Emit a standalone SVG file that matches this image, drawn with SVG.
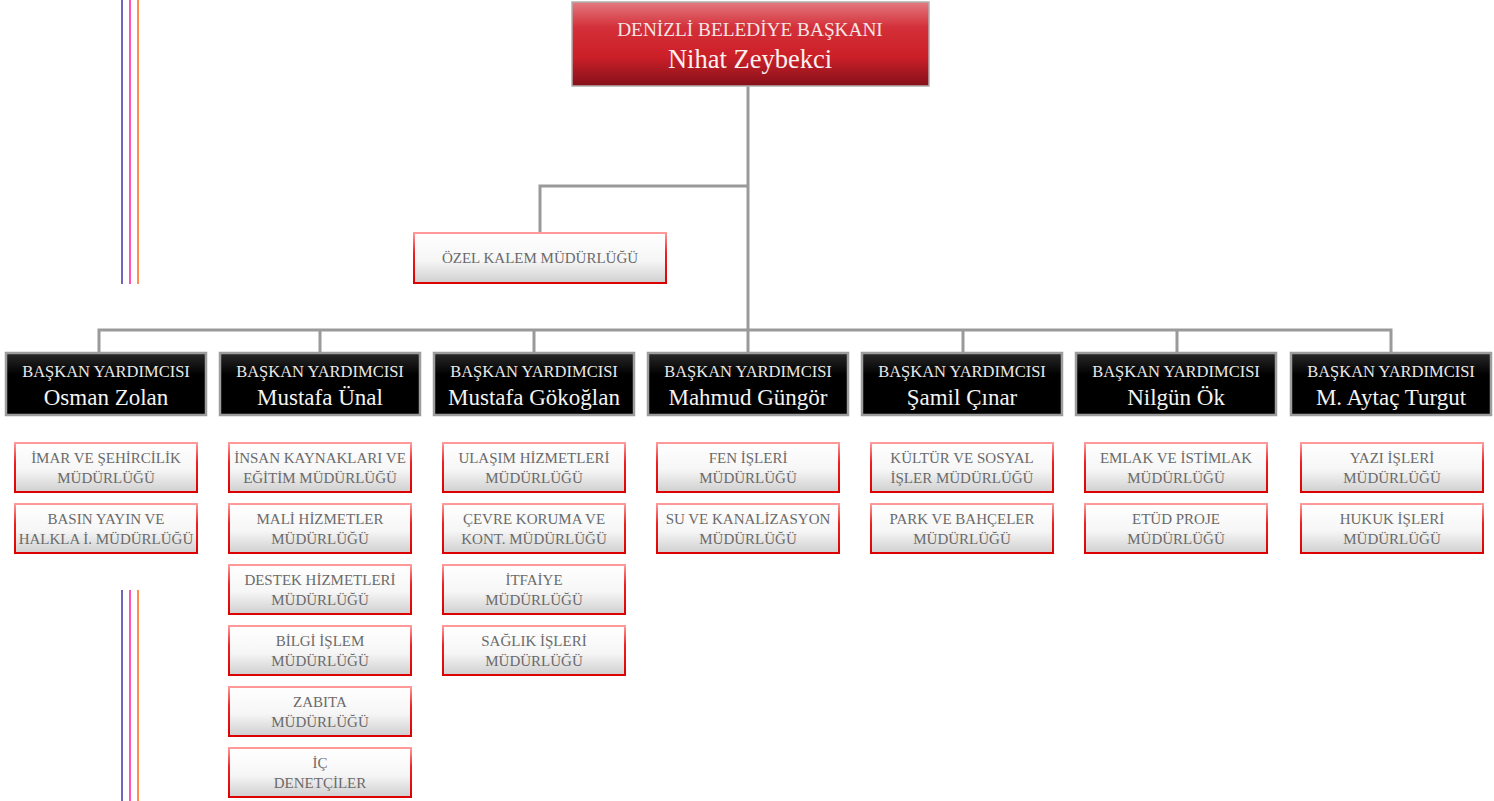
<svg xmlns="http://www.w3.org/2000/svg" width="1494" height="801" viewBox="0 0 1494 801">
<defs>
<linearGradient id="gRed" x1="0" y1="0" x2="0" y2="1">
<stop offset="0" stop-color="#e37a80"/>
<stop offset="0.3" stop-color="#d43039"/>
<stop offset="0.65" stop-color="#cc1f28"/>
<stop offset="1" stop-color="#85111a"/>
</linearGradient>
<linearGradient id="gBlack" x1="0" y1="0" x2="0" y2="1">
<stop offset="0" stop-color="#2a2a2a"/>
<stop offset="0.35" stop-color="#000"/>
<stop offset="1" stop-color="#000"/>
</linearGradient>
<linearGradient id="gWhite" x1="0" y1="0" x2="0" y2="1">
<stop offset="0" stop-color="#ffffff"/>
<stop offset="0.55" stop-color="#f6f6f6"/>
<stop offset="1" stop-color="#cfcfcf"/>
</linearGradient>
<linearGradient id="gBorder" x1="0" y1="0" x2="0" y2="1">
<stop offset="0" stop-color="#ff9a9a"/>
<stop offset="0.4" stop-color="#ee2020"/>
<stop offset="1" stop-color="#dd0000"/>
</linearGradient>
<style>
.conn{stroke:#9a9a9a;stroke-width:3;fill:none}
.red{fill:url(#gRed);stroke:#b0b0b0;stroke-width:1.5}
.blk{fill:url(#gBlack);stroke:#9d9d9d;stroke-width:2.5}
.wht{fill:url(#gWhite);stroke:url(#gBorder);stroke-width:2}
text{font-family:"Liberation Serif","DejaVu Serif",serif;text-anchor:middle}
.t1{fill:#f4e6e6;font-size:19.3px}
.t2{fill:#fbf0f0;font-size:26.5px}
.b1{fill:#e8e8e8;font-size:16.5px}
.b2{fill:#f4f4f4;font-size:23px}
.s{fill:#6a6a6a;font-size:15px}
</style>
</defs>
<g id="deco">
<line x1="122" y1="0" x2="122" y2="284" stroke="#3a36a6" stroke-width="1.5"/>
<line x1="130" y1="0" x2="130" y2="284" stroke="#ff1aa6" stroke-width="1.5"/>
<line x1="138" y1="0" x2="138" y2="284" stroke="#ff6a10" stroke-width="1.5"/>
<line x1="122" y1="590" x2="122" y2="801" stroke="#3a36a6" stroke-width="1.5"/>
<line x1="130" y1="590" x2="130" y2="801" stroke="#ff1aa6" stroke-width="1.5"/>
<line x1="138" y1="590" x2="138" y2="801" stroke="#ff6a10" stroke-width="1.5"/>
</g>
<g id="connectors">
<path class="conn" d="M748 86 V330"/>
<path class="conn" d="M748 186 H540 V233"/>
<path class="conn" d="M99 352 V330 H1391 V352"/>
<path class="conn" d="M320 330 V352 M534 330 V352 M748 330 V352 M963 330 V352 M1177 330 V352"/>
</g>
<g id="baskan">
<rect class="red" x="572" y="2" width="357" height="84"/>
<text class="t1" x="750" y="36">DENİZLİ BELEDİYE BAŞKANI</text>
<text class="t2" x="750" y="68">Nihat Zeybekci</text>
</g>
<g id="ozel-kalem">
<rect class="wht" x="414" y="233" width="252" height="50"/>
<text class="s" x="540" y="263">ÖZEL KALEM MÜDÜRLÜĞÜ</text>
</g>
<g id="by1"><rect class="blk" x="6" y="353" width="200" height="62"/><text class="b1" x="106" y="377">BAŞKAN YARDIMCISI</text><text class="b2" x="106" y="405">Osman Zolan</text></g>
<g id="by2"><rect class="blk" x="220" y="353" width="200" height="62"/><text class="b1" x="320" y="377">BAŞKAN YARDIMCISI</text><text class="b2" x="320" y="405">Mustafa Ünal</text></g>
<g id="by3"><rect class="blk" x="434" y="353" width="200" height="62"/><text class="b1" x="534" y="377">BAŞKAN YARDIMCISI</text><text class="b2" x="534" y="405">Mustafa Gökoğlan</text></g>
<g id="by4"><rect class="blk" x="648" y="353" width="200" height="62"/><text class="b1" x="748" y="377">BAŞKAN YARDIMCISI</text><text class="b2" x="748" y="405">Mahmud Güngör</text></g>
<g id="by5"><rect class="blk" x="862" y="353" width="200" height="62"/><text class="b1" x="962" y="377">BAŞKAN YARDIMCISI</text><text class="b2" x="962" y="405">Şamil Çınar</text></g>
<g id="by6"><rect class="blk" x="1076" y="353" width="200" height="62"/><text class="b1" x="1176" y="377">BAŞKAN YARDIMCISI</text><text class="b2" x="1176" y="405">Nilgün Ök</text></g>
<g id="by7"><rect class="blk" x="1291" y="353" width="200" height="62"/><text class="b1" x="1391" y="377">BAŞKAN YARDIMCISI</text><text class="b2" x="1391" y="405">M. Aytaç Turgut</text></g>

<g id="m1-1"><rect class="wht" x="15" y="443" width="182" height="49"/><text class="s" x="106" y="463">İMAR VE ŞEHİRCİLİK</text><text class="s" x="106" y="483">MÜDÜRLÜĞÜ</text></g>
<g id="m1-2"><rect class="wht" x="15" y="504" width="182" height="49"/><text class="s" x="106" y="524">BASIN YAYIN VE</text><text class="s" x="106" y="544">HALKLA İ. MÜDÜRLÜĞÜ</text></g>

<g id="m2-1"><rect class="wht" x="229" y="443" width="182" height="49"/><text class="s" x="320" y="463">İNSAN KAYNAKLARI VE</text><text class="s" x="320" y="483">EĞİTİM MÜDÜRLÜĞÜ</text></g>
<g id="m2-2"><rect class="wht" x="229" y="504" width="182" height="49"/><text class="s" x="320" y="524">MALİ HİZMETLER</text><text class="s" x="320" y="544">MÜDÜRLÜĞÜ</text></g>
<g id="m2-3"><rect class="wht" x="229" y="565" width="182" height="49"/><text class="s" x="320" y="585">DESTEK HİZMETLERİ</text><text class="s" x="320" y="605">MÜDÜRLÜĞÜ</text></g>
<g id="m2-4"><rect class="wht" x="229" y="626" width="182" height="49"/><text class="s" x="320" y="646">BİLGİ İŞLEM</text><text class="s" x="320" y="666">MÜDÜRLÜĞÜ</text></g>
<g id="m2-5"><rect class="wht" x="229" y="687" width="182" height="49"/><text class="s" x="320" y="707">ZABITA</text><text class="s" x="320" y="727">MÜDÜRLÜĞÜ</text></g>
<g id="m2-6"><rect class="wht" x="229" y="748" width="182" height="49"/><text class="s" x="320" y="768">İÇ</text><text class="s" x="320" y="788">DENETÇİLER</text></g>

<g id="m3-1"><rect class="wht" x="443" y="443" width="182" height="49"/><text class="s" x="534" y="463">ULAŞIM HİZMETLERİ</text><text class="s" x="534" y="483">MÜDÜRLÜĞÜ</text></g>
<g id="m3-2"><rect class="wht" x="443" y="504" width="182" height="49"/><text class="s" x="534" y="524">ÇEVRE KORUMA VE</text><text class="s" x="534" y="544">KONT. MÜDÜRLÜĞÜ</text></g>
<g id="m3-3"><rect class="wht" x="443" y="565" width="182" height="49"/><text class="s" x="534" y="585">İTFAİYE</text><text class="s" x="534" y="605">MÜDÜRLÜĞÜ</text></g>
<g id="m3-4"><rect class="wht" x="443" y="626" width="182" height="49"/><text class="s" x="534" y="646">SAĞLIK İŞLERİ</text><text class="s" x="534" y="666">MÜDÜRLÜĞÜ</text></g>

<g id="m4-1"><rect class="wht" x="657" y="443" width="182" height="49"/><text class="s" x="748" y="463">FEN İŞLERİ</text><text class="s" x="748" y="483">MÜDÜRLÜĞÜ</text></g>
<g id="m4-2"><rect class="wht" x="657" y="504" width="182" height="49"/><text class="s" x="748" y="524">SU VE KANALİZASYON</text><text class="s" x="748" y="544">MÜDÜRLÜĞÜ</text></g>

<g id="m5-1"><rect class="wht" x="871" y="443" width="182" height="49"/><text class="s" x="962" y="463">KÜLTÜR VE SOSYAL</text><text class="s" x="962" y="483">İŞLER MÜDÜRLÜĞÜ</text></g>
<g id="m5-2"><rect class="wht" x="871" y="504" width="182" height="49"/><text class="s" x="962" y="524">PARK VE BAHÇELER</text><text class="s" x="962" y="544">MÜDÜRLÜĞÜ</text></g>

<g id="m6-1"><rect class="wht" x="1085" y="443" width="182" height="49"/><text class="s" x="1176" y="463">EMLAK VE İSTİMLAK</text><text class="s" x="1176" y="483">MÜDÜRLÜĞÜ</text></g>
<g id="m6-2"><rect class="wht" x="1085" y="504" width="182" height="49"/><text class="s" x="1176" y="524">ETÜD PROJE</text><text class="s" x="1176" y="544">MÜDÜRLÜĞÜ</text></g>

<g id="m7-1"><rect class="wht" x="1301" y="443" width="182" height="49"/><text class="s" x="1392" y="463">YAZI İŞLERİ</text><text class="s" x="1392" y="483">MÜDÜRLÜĞÜ</text></g>
<g id="m7-2"><rect class="wht" x="1301" y="504" width="182" height="49"/><text class="s" x="1392" y="524">HUKUK İŞLERİ</text><text class="s" x="1392" y="544">MÜDÜRLÜĞÜ</text></g>
</svg>
